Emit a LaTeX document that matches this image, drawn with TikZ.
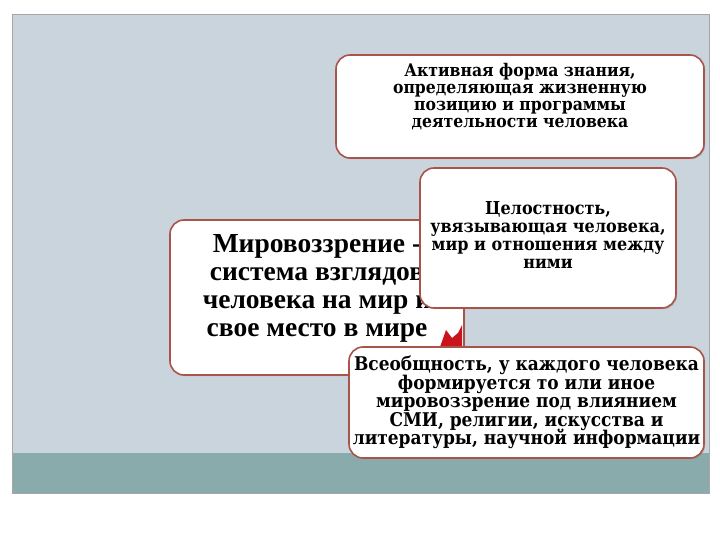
\documentclass[tikz,border=0pt]{standalone}
\usepackage{fontspec}
\setmainfont{Liberation Serif}
\newfontfamily\boxfont[FakeStretch=0.9]{DejaVu Serif}
\usetikzlibrary{shadows}
\definecolor{slidebg}{HTML}{C9D4DC}
\definecolor{bandcol}{HTML}{8AABAB}
\definecolor{rimcol}{HTML}{A9544A}
\definecolor{flagred}{HTML}{C8141A}
\tikzset{
  idea/.style={draw=rimcol, line width=1.6pt, fill=white, rounded corners=14pt,
    drop shadow={opacity=0.35, shadow xshift=1.2pt, shadow yshift=-1.2pt},
    inner sep=0pt},
  txt/.style={align=center, inner sep=0pt},
}
\newcommand{\boxsize}[2]{\boxfont\bfseries\fontsize{#1}{#2}\selectfont\lineskiplimit=-100pt}
\begin{document}
\begin{tikzpicture}[x=1pt, y=-1pt]
\useasboundingbox (0,0) rectangle (720,540);
\fill[white] (0,0) rectangle (720,540);
% slide
\fill[slidebg] (12,14) rectangle (709,493);
\fill[bandcol] (12,453) rectangle (709,493);
\draw[gray!70, line width=0.6pt] (12,14) rectangle (709,493);
% main box
\node[idea, minimum width=294pt, minimum height=155pt] (P_main) at (317,297.5) {};
\node[txt, font=\bfseries\fontsize{27.5}{28}\selectfont] (P_main_t) at ([yshift=9pt]P_main.center)
  {Мировоззрение -\\система взглядов\\человека на мир и\\свое место в мире};
\fill[flagred] (440,347) -- (446,330) -- (452,338) -- (458,333) -- (462,325) -- (462,347) -- cycle;
% top box
\node[idea, minimum width=368pt, minimum height=103pt] (P_top) at (520,106.5) {};
\node[txt, font=\boxsize{17.4}{17}] (P_top_t) at ([yshift=10pt]P_top.center)
  {Активная форма знания,\\определяющая жизненную\\позицию и программы\\деятельности человека};
% middle box
\node[idea, minimum width=256pt, minimum height=140pt] (P_mid) at (548,238) {};
\node[txt, font=\boxsize{17.8}{17.7}] (P_mid_t) at ([yshift=3pt]P_mid.center)
  {Целостность,\\увязывающая человека,\\мир и отношения между\\ними};
% bottom box
\node[idea, minimum width=355pt, minimum height=111pt] (P_bot) at (526.5,402.5) {};
\node[txt, font=\boxsize{18.9}{18.5}] (P_bot_t) at (P_bot.center)
  {Всеобщность, у каждого человека\\формируется то или иное\\мировоззрение под влиянием\\СМИ, религии, искусства и\\литературы, научной информации};
\end{tikzpicture}
\end{document}
